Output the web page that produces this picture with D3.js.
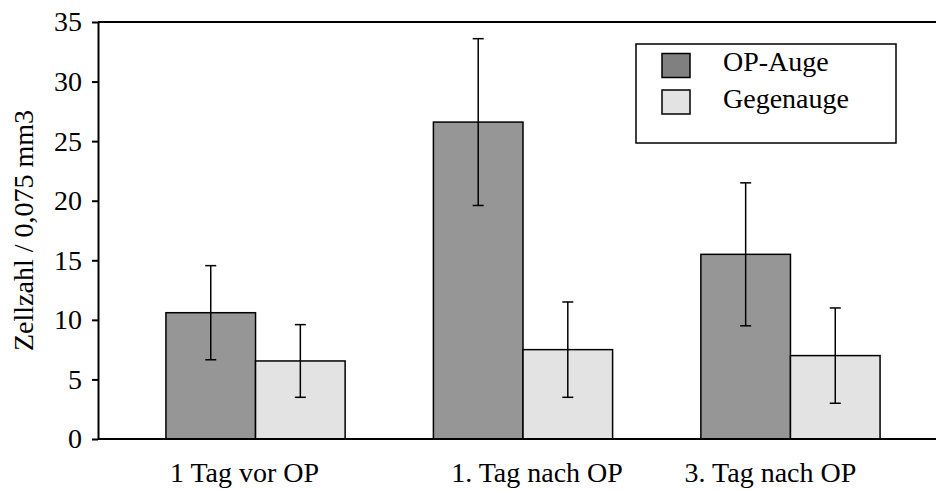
<!DOCTYPE html>
<html>
<head>
<meta charset="utf-8">
<script src="https://cdn.jsdelivr.net/npm/d3@7"></script>
<style>
  body { margin: 0; background: #fff; }
</style>
</head>
<body>
<div id="chart-area"></div>
<script>
// data
var categories = ["1 Tag vor OP", "1. Tag nach OP", "3. Tag nach OP"];
var series = ["OP-Auge", "Gegenauge"];
var opAuge = [10.6, 26.6, 15.5];
var opAugeErr = [3.95, 7.0, 6.0];
var gegenauge = [6.55, 7.5, 7.0];
var gegenaugeErr = [3.05, 4.0, 4.0];
var yTicks = [0, 5, 10, 15, 20, 25, 30, 35];

var width = 936,
  height = 491;
var font = "'Liberation Serif', 'Times New Roman', serif";
// plot area (right edge runs past the window, like the original)
var plot = { left: 98, right: 948, top: 22, bottom: 439 };
// the category labels sit a little off their bar groups in the original
var labelShift = [-11, 14, -20];

var barColor = { "OP-Auge": "#969696", "Gegenauge": "#e3e3e3" };
var legendColor = { "OP-Auge": "#808080", "Gegenauge": "#e3e3e3" };

var values = { "OP-Auge": opAuge, "Gegenauge": gegenauge };
var errs = { "OP-Auge": opAugeErr, "Gegenauge": gegenaugeErr };

var rows = [];
categories.forEach(function(c, i){
  series.forEach(function(s){
    rows.push({ cat: c, s: s, v: values[s][i], e: errs[s][i] });
  });
});

var svg = d3.select("#chart-area")
  .append("svg")
    .attr("width", width)
    .attr("height", height)
    .style("font-family", font);

var x0 = d3.scaleBand()
  .domain(categories)
  .range([plot.left, plot.right])
  .paddingInner(0.33)
  .paddingOuter(0.254);

var x1 = d3.scaleBand()
  .domain(series)
  .range([0, x0.bandwidth()]);

var y = d3.scaleLinear()
  .domain([0, 35])
  .range([plot.bottom, plot.top]);

// bars
svg.selectAll(".bar")
  .data(rows)
  .enter().append("rect")
    .attr("class", "bar")
    .attr("x", function(d){ return x0(d.cat) + x1(d.s) })
    .attr("y", function(d){ return y(d.v) })
    .attr("width", x1.bandwidth())
    .attr("height", function(d){ return y(0) - y(d.v) })
    .attr("fill", function(d){ return barColor[d.s] })
    .attr("stroke", "#000")
    .attr("stroke-width", 1.5);

// error bars
var err = svg.selectAll(".err")
  .data(rows)
  .enter().append("g")
    .attr("class", "err")
    .attr("transform", function(d){
      return "translate(" + (x0(d.cat) + x1(d.s) + x1.bandwidth() / 2) + ",0)"
    });

err.append("line")
  .attr("y1", function(d){ return y(d.v + d.e) })
  .attr("y2", function(d){ return y(d.v - d.e) })
  .attr("stroke", "#000")
  .attr("stroke-width", 1.5);

err.selectAll(".cap")
  .data(function(d){ return [d.v + d.e, d.v - d.e] })
  .enter().append("line")
    .attr("x1", -5.5)
    .attr("x2", 5.5)
    .attr("y1", function(d){ return y(d) })
    .attr("y2", function(d){ return y(d) })
    .attr("stroke", "#000")
    .attr("stroke-width", 1.5);

// frame: top line and bottom axis
svg.append("line")
  .attr("x1", plot.left).attr("x2", plot.right)
  .attr("y1", y(35)).attr("y2", y(35))
  .attr("stroke", "#000")
  .attr("stroke-width", 2);

svg.append("line")
  .attr("x1", plot.left).attr("x2", plot.right)
  .attr("y1", y(0)).attr("y2", y(0))
  .attr("stroke", "#000")
  .attr("stroke-width", 2);

// y axis
var yAxis = svg.append("g")
  .attr("transform", "translate(" + plot.left + ",0)")
  .call(d3.axisLeft(y).tickValues(yTicks).tickSize(6).tickPadding(10).tickSizeOuter(0));

yAxis.attr("font-family", null).attr("font-size", null);
yAxis.select(".domain").attr("stroke-width", 2);
yAxis.selectAll(".tick line").attr("stroke-width", 2);
yAxis.selectAll(".tick text")
  .style("font-family", font)
  .style("font-size", "28px")
  .attr("fill", "#000");

// category labels
svg.selectAll(".cat")
  .data(categories)
  .enter().append("text")
    .attr("class", "cat")
    .attr("x", function(d, i){ return x0(d) + x0.bandwidth() / 2 + labelShift[i] })
    .attr("y", 482)
    .attr("text-anchor", "middle")
    .style("font-family", font)
    .style("font-size", "28px")
    .text(function(d){ return d });

// y label
svg.append("text")
  .attr("transform", "translate(33," + ((plot.top + plot.bottom) / 2) + ") rotate(-90)")
  .attr("text-anchor", "middle")
  .style("font-family", font)
  .style("font-size", "28px")
  .text("Zellzahl / 0,075 mm3");

// legend
var legend = svg.append("g")
  .attr("transform", "translate(636,44)");

legend.append("rect")
  .attr("width", 260)
  .attr("height", 99)
  .attr("fill", "#fff")
  .attr("stroke", "#000")
  .attr("stroke-width", 1.5);

var item = legend.selectAll(".item")
  .data(series)
  .enter().append("g")
    .attr("class", "item")
    .attr("transform", function(d, i){ return "translate(26," + (9.5 + i * 36.5) + ")" });

item.append("rect")
  .attr("width", 28)
  .attr("height", 24)
  .attr("fill", function(d){ return legendColor[d] })
  .attr("stroke", "#000")
  .attr("stroke-width", 1.5);

item.append("text")
  .attr("x", 61)
  .attr("y", 17.5)
  .style("font-family", font)
  .style("font-size", "28px")
  .text(function(d){ return d });
</script>
</body>
</html>
